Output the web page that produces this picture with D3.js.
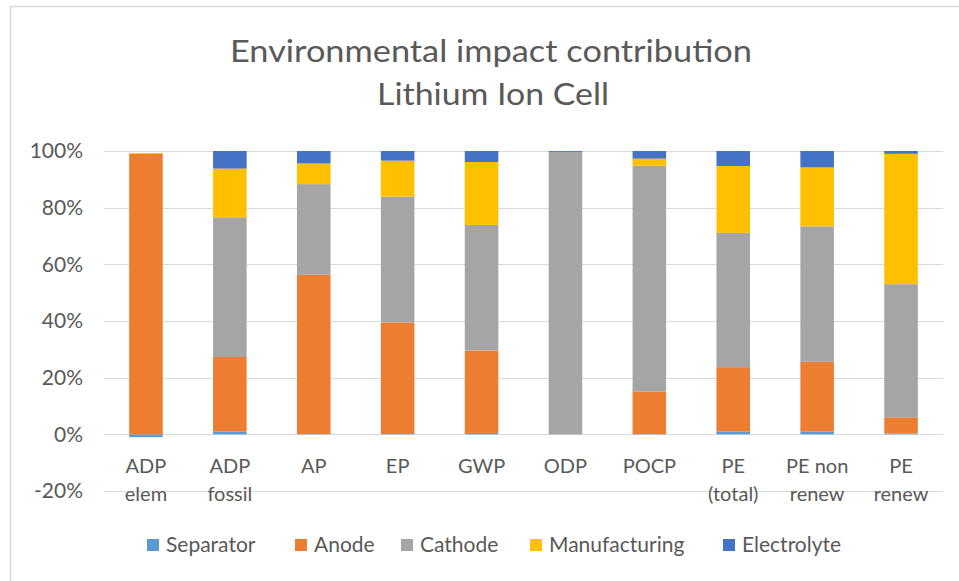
<!DOCTYPE html>
<html>
<head>
<meta charset="utf-8">
<script src="https://cdn.jsdelivr.net/npm/d3@7"></script>
<style>
body { margin: 0; background: #fff; }
text { font-family: Lato, "Open Sans", sans-serif; fill: #595959; }
</style>
</head>
<body>
<script>
var categories = ["ADP elem", "ADP fossil", "AP", "EP", "GWP", "ODP", "POCP", "PE (total)", "PE non renew", "PE renew"];
var catLines = [["ADP", "elem"], ["ADP", "fossil"], ["AP"], ["EP"], ["GWP"], ["ODP"], ["POCP"], ["PE", "(total)"], ["PE non", "renew"], ["PE", "renew"]];
var series = ["Separator", "Anode", "Cathode", "Manufacturing", "Electrolyte"];
var colors = ["#5b9bd5", "#ed7d31", "#a5a5a5", "#ffc000", "#4472c4"];

// shares in %
var separator     = [-1.0, 1.0, 0.1, 0.1, 0.5, 0.0, 0.1, 1.0, 1.0, 0.3];
var anode         = [99.0, 26.3, 56.2, 39.4, 29.1, 0.0, 15.0, 22.7, 24.6, 5.7];
var cathode       = [0.0, 49.3, 32.0, 44.4, 44.3, 99.7, 79.7, 47.4, 47.8, 47.0];
var manufacturing = [0.3, 17.2, 7.3, 12.7, 22.2, 0.0, 2.5, 23.6, 20.8, 46.0];
var electrolyte   = [0.0, 6.2, 4.4, 3.4, 3.9, 0.3, 2.7, 5.3, 5.8, 1.0];
var yTicks = [-20, 0, 20, 40, 60, 80, 100];

var width = 959, height = 581;

var svg = d3.select("body").append("svg")
    .attr("width", width)
    .attr("height", height);

// chart frame
svg.append("rect")
    .attr("x", 10.5)
    .attr("y", 6.5)
    .attr("width", 970)
    .attr("height", 600)
    .attr("fill", "none")
    .attr("stroke", "#d9d9d9")
    .attr("stroke-width", 1.5);

svg.append("text")
    .attr("x", 491)
    .attr("y", 62)
    .attr("text-anchor", "middle")
    .attr("textLength", 522)
    .attr("lengthAdjust", "spacingAndGlyphs")
    .style("font-size", "30px")
    .text("Environmental impact contribution");

svg.append("text")
    .attr("x", 493)
    .attr("y", 105)
    .attr("text-anchor", "middle")
    .attr("textLength", 232)
    .attr("lengthAdjust", "spacingAndGlyphs")
    .style("font-size", "30px")
    .text("Lithium Ion Cell");

var x = d3.scaleBand()
    .domain(categories)
    .range([104, 943])
    .paddingInner(0.6)
    .paddingOuter(0.3);

var y = d3.scaleLinear()
    .domain([-20, 100])
    .range([491, 151]);

var rows = categories.map(function(c, i) {
    return {
        category: c,
        Separator: separator[i],
        Anode: anode[i],
        Cathode: cathode[i],
        Manufacturing: manufacturing[i],
        Electrolyte: electrolyte[i]
    };
});

// gridlines
svg.append("g")
    .selectAll("line")
    .data(yTicks)
    .enter()
    .append("line")
    .attr("x1", 104)
    .attr("x2", 943)
    .attr("y1", function(d) { return Math.round(y(d)) + 0.5; })
    .attr("y2", function(d) { return Math.round(y(d)) + 0.5; })
    .attr("stroke", "#d9d9d9")
    .attr("stroke-width", 1.2);

var yAxis = d3.axisLeft(y)
    .tickValues(yTicks)
    .tickSize(0)
    .tickPadding(0)
    .tickFormat(function(d) { return d + "%"; });

var yG = svg.append("g")
    .attr("transform", "translate(83,0)")
    .call(yAxis);
yG.select(".domain").remove();
yG.selectAll("text")
    .style("font-size", "21px")
    .attr("fill", "#595959")
    .style("font-family", "Lato, 'Open Sans', sans-serif");

var stacked = d3.stack()
    .keys(series)
    .offset(d3.stackOffsetDiverging)(rows);

svg.append("g")
    .selectAll("g")
    .data(stacked)
    .enter()
    .append("g")
    .attr("fill", function(d, i) { return colors[i]; })
    .selectAll("rect")
    .data(function(d) { return d; })
    .enter()
    .append("rect")
    .attr("x", function(d) { return x(d.data.category); })
    .attr("width", x.bandwidth())
    .attr("y", function(d) { return y(Math.max(d[0], d[1])); })
    .attr("height", function(d) { return Math.abs(y(d[0]) - y(d[1])); });

// category labels
var labels = svg.append("g")
    .selectAll("text")
    .data(categories)
    .enter()
    .append("text")
    .attr("text-anchor", "middle")
    .style("font-size", "20px")
    .attr("x", function(d) { return x(d) + x.bandwidth() / 2; })
    .attr("y", 473);

labels.selectAll("tspan")
    .data(function(d, i) { return catLines[i]; })
    .enter()
    .append("tspan")
    .attr("x", function() { var c = d3.select(this.parentNode).datum(); return x(c) + x.bandwidth() / 2; })
    .attr("dy", function(d, i) { return i === 0 ? 0 : 28; })
    .text(function(d) { return d; });

// legend
var legendX = [147, 295, 401, 530, 723];
var legend = svg.append("g")
    .selectAll("g")
    .data(series)
    .enter()
    .append("g")
    .attr("transform", function(d, i) { return "translate(" + legendX[i] + ",545)"; });

legend.append("rect")
    .attr("x", 0)
    .attr("y", -6)
    .attr("width", 12)
    .attr("height", 12)
    .attr("fill", function(d, i) { return colors[i]; });

legend.append("text")
    .attr("x", 19)
    .attr("y", 7)
    .style("font-size", "21px")
    .text(function(d) { return d; });
</script>
</body>
</html>
